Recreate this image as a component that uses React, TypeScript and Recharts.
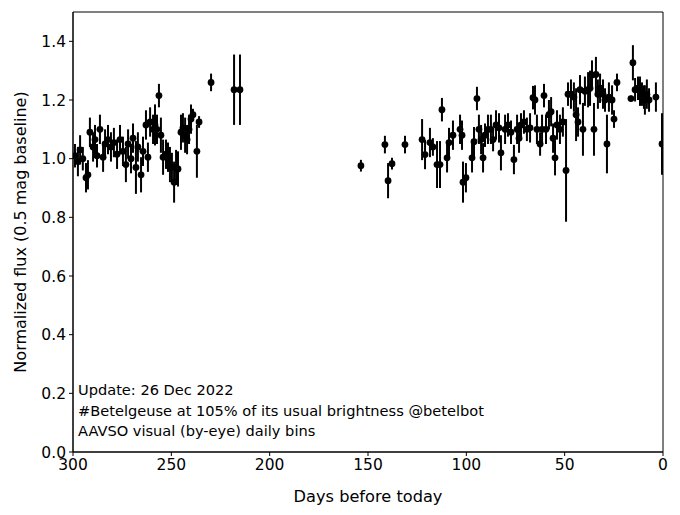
import React from 'react';
import { ScatterChart, Scatter, XAxis, YAxis, ErrorBar, ReferenceArea } from 'recharts';

// Days before today
const days: number[] = [
  299, 297.5, 296.4, 295, 293.4, 292.4, 291.4, 289.8, 288.8, 287.8,
  286.3, 284.7, 283.7, 282.2, 280.7, 279.2, 277.6, 276.1, 274.6, 273.1,
  272, 270.5, 269.5, 268, 267, 265.4, 264.4, 262.9, 261.9, 260.8,
  259.3, 258.3, 257.3, 256.3, 255.3, 254.2, 252.7, 251.7, 250.7, 249.7,
  248.6, 247.6, 246.6, 245.1, 244.1, 243.0, 242.0, 241.0, 240.0, 239.0,
  237.0, 235.9, 229.8, 218.1, 215.1,
  153.6, 141.4, 139.8, 137.8, 131.2, 122.5, 121.0, 118.5, 117.0, 114.9,
  113.4, 112.4, 109.8, 108.8, 106.8, 103.2, 102.2, 101.7, 100.2, 97.1,
  96.1, 94.6, 93.6, 92.5, 91.5, 90.5, 89.0, 87.5, 86.4, 84.9,
  83.4, 82.4, 80.3, 78.8, 77.3, 75.8, 74.2, 73.2, 72.2, 70.7,
  69.2, 67.6, 66.1, 65.1, 64.1, 62.5, 61.5, 60.5, 59.5, 58.0,
  56.9, 55.9, 54.9, 53.9, 52.4, 50.9, 49.3, 48.3, 46.8, 45.3,
  44.2, 43.2, 42.2, 40.7, 39.7, 38.1, 37.1, 36.1, 35.1, 34.1,
  33.1, 32.0, 30.5, 29.5, 28.5, 27.5, 25.9, 24.9, 23.4, 16.3,
  15.3, 14.2, 12.7, 11.7, 10.7, 9.7, 9.2, 8.2, 7.1, 3.6, 0.5,
];

// Normalized flux
const flux: number[] = [
  1.01, 0.99, 1.03, 1.0, 0.935, 0.945, 1.09, 1.04, 1.065, 1.01,
  1.10, 1.005, 1.05, 1.065, 1.04, 1.055, 1.015, 1.065, 1.025, 0.98,
  1.05, 1.0, 1.07, 0.97, 1.04, 0.945, 1.025, 1.115, 1.005, 1.125,
  1.10, 1.115, 1.10, 1.215, 1.08, 1.005, 1.015, 1.005, 0.98, 0.97,
  0.92, 0.97, 0.965, 1.09, 1.105, 1.08, 1.065, 1.10, 1.135, 1.15,
  1.025, 1.125, 1.26, 1.235, 1.235,
  0.976, 1.048, 0.925, 0.983, 1.048, 1.065, 1.014, 1.055, 1.04, 0.98,
  0.98, 1.167, 1.003, 1.055, 1.08, 1.10, 1.08, 0.92, 0.935, 1.003,
  1.058, 1.205, 1.10, 1.065, 1.003, 1.08, 1.10, 1.10, 1.065, 1.115,
  1.105, 1.02, 1.10, 1.115, 1.09, 0.997, 1.10, 1.07, 1.115, 1.125,
  1.10, 1.105, 1.208, 1.20, 1.10, 1.05, 1.10, 1.215, 1.10, 1.15,
  1.16, 1.07, 1.003, 1.115, 1.10, 1.125, 0.96, 1.22, 1.22, 1.21,
  1.15, 1.125, 1.235, 1.10, 1.23, 1.235, 1.24, 1.285, 1.10, 1.287,
  1.22, 1.24, 1.22, 1.20, 1.05, 1.21, 1.20, 1.135, 1.26, 1.205,
  1.327, 1.235, 1.24, 1.23, 1.22, 1.21, 1.20, 1.22, 1.20, 1.21, 1.05,
];

// Error (1 sigma)
const errors: number[] = [
  0.04, 0.05, 0.05, 0.04, 0.05, 0.05, 0.05, 0.05, 0.05, 0.04,
  0.05, 0.05, 0.05, 0.05, 0.05, 0.05, 0.05, 0.05, 0.05, 0.06,
  0.05, 0.05, 0.05, 0.09, 0.05, 0.06, 0.05, 0.05, 0.05, 0.05,
  0.05, 0.07, 0.05, 0.04, 0.06, 0.06, 0.05, 0.05, 0.06, 0.05,
  0.07, 0.06, 0.06, 0.06, 0.05, 0.06, 0.05, 0.05, 0.05, 0.02,
  0.09, 0.02, 0.03, 0.12, 0.12,
  0.02, 0.03, 0.06, 0.02, 0.03, 0.07, 0.05, 0.05, 0.03, 0.08,
  0.08, 0.04, 0.05, 0.05, 0.05, 0.05, 0.05, 0.07, 0.05, 0.05,
  0.05, 0.04, 0.05, 0.05, 0.05, 0.04, 0.05, 0.05, 0.04, 0.05,
  0.05, 0.06, 0.05, 0.04, 0.04, 0.05, 0.05, 0.05, 0.04, 0.04,
  0.04, 0.05, 0.04, 0.05, 0.05, 0.04, 0.05, 0.04, 0.05, 0.05,
  0.05, 0.05, 0.06, 0.05, 0.05, 0.05, 0.175, 0.04, 0.05, 0.05,
  0.09, 0.05, 0.05, 0.09, 0.05, 0.06, 0.06, 0.05, 0.09, 0.06,
  0.05, 0.05, 0.05, 0.04, 0.1, 0.05, 0.05, 0.03, 0.03, 0.01,
  0.06, 0.04, 0.04, 0.05, 0.04, 0.04, 0.05, 0.05, 0.04, 0.05, 0.105,
];

const xTicks: number[] = [300, 250, 200, 150, 100, 50, 0];
const yTicks: number[] = [0, 0.2, 0.4, 0.6, 0.8, 1.0, 1.2, 1.4];
const annotationLines: string[] = [
  'Update: 26 Dec 2022',
  '#Betelgeuse at 105% of its usual brightness @betelbot',
  'AAVSO visual (by-eye) daily bins',
];

const data = days.map((d, i) => ({ x: d, y: flux[i], err: errors[i] }));

const FONT = '"DejaVu Sans", sans-serif';
const tickStyle = { fill: '#000', fontSize: 15.5, fontFamily: FONT };

const Dot = (props: any) => (
  <circle cx={props.cx} cy={props.cy} r={3.4} fill="#000" />
);

export default function App() {
  return (
    <div style={{ position: 'absolute', left: 0, top: 0, width: 680, height: 515, background: '#fff', fontFamily: FONT }}>
      <ScatterChart width={680} height={515} margin={{ top: 12, right: 17, bottom: 0, left: 0 }}>
        <XAxis
          type="number"
          dataKey="x"
          domain={[0, 300]}
          reversed
          ticks={xTicks}
          interval={0}
          height={63}
          tick={tickStyle}
          tickSize={4}
          tickMargin={3}
          axisLine={{ stroke: '#000' }}
          tickLine={{ stroke: '#000' }}
          allowDataOverflow
          label={{ value: 'Days before today', position: 'insideBottom', offset: 13, fill: '#000', fontSize: 16.2, fontFamily: FONT }}
        />
        <YAxis
          type="number"
          dataKey="y"
          domain={[0, 1.5]}
          ticks={yTicks}
          interval={0}
          width={73}
          tick={tickStyle}
          tickSize={4}
          tickMargin={3}
          tickFormatter={(v: number) => v.toFixed(1)}
          axisLine={{ stroke: '#000' }}
          tickLine={{ stroke: '#000' }}
          allowDataOverflow
          label={{
            content: () => (
              <text x={20.5} y={232} transform="rotate(-90 20.5 232)" textAnchor="middle" dominantBaseline="central" fill="#000" fontSize={16} fontFamily={FONT}>
                Normalized flux (0.5 mag baseline)
              </text>
            ),
          }}
        />
        <ReferenceArea x1={300} x2={0} y1={0} y2={1.5} fill="none" stroke="#000" strokeWidth={1} ifOverflow="visible" />
        <Scatter data={data} shape={Dot} isAnimationActive={false}>
          <ErrorBar dataKey="err" direction="y" width={0} stroke="#000" strokeWidth={2} isAnimationActive={false} />
        </Scatter>
      </ScatterChart>
      <div style={{ position: 'absolute', left: 78, top: 380, fontSize: 14.6, lineHeight: '20.5px', color: '#000', whiteSpace: 'nowrap' }}>
        {annotationLines.map((l, i) => (
          <div key={i}>{l}</div>
        ))}
      </div>
    </div>
  );
}
